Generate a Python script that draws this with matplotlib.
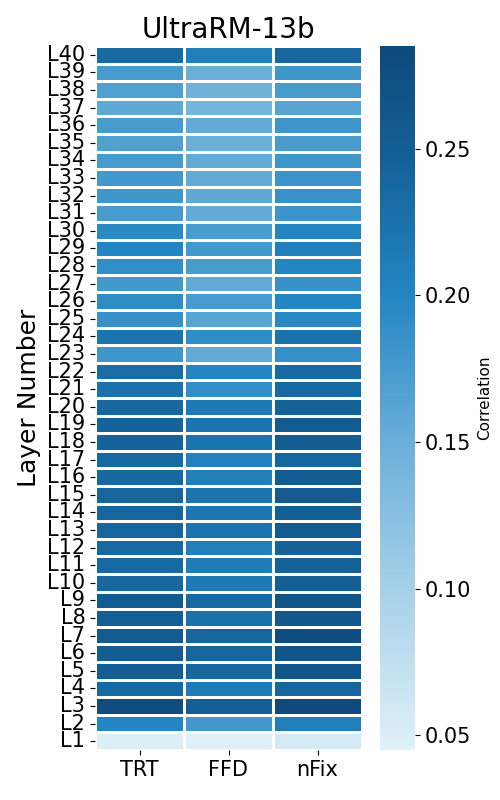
import numpy as np
import matplotlib
matplotlib.use("Agg")
import matplotlib.pyplot as plt
import seaborn as sns
from matplotlib.colors import LinearSegmentedColormap

title = "UltraRM-13b"
columns = ["TRT", "FFD", "nFix"]
layers = ["L%d" % i for i in range(1, 41)]

# correlation per layer, L1 .. L40
trt = [0.049, 0.200, 0.280, 0.236, 0.252, 0.252, 0.256, 0.250, 0.255, 0.238,
       0.236, 0.236, 0.240, 0.240, 0.240, 0.238, 0.236, 0.243, 0.243, 0.238,
       0.225, 0.232, 0.180, 0.222, 0.186, 0.192, 0.177, 0.190, 0.200, 0.195,
       0.175, 0.180, 0.177, 0.175, 0.168, 0.175, 0.158, 0.168, 0.175, 0.235]
ffd = [0.046, 0.177, 0.250, 0.213, 0.238, 0.240, 0.240, 0.225, 0.236, 0.215,
       0.212, 0.208, 0.222, 0.220, 0.222, 0.210, 0.205, 0.222, 0.222, 0.215,
       0.190, 0.200, 0.156, 0.192, 0.163, 0.174, 0.155, 0.175, 0.177, 0.173,
       0.155, 0.157, 0.155, 0.155, 0.150, 0.155, 0.140, 0.145, 0.150, 0.210]
nfix = [0.057, 0.210, 0.285, 0.240, 0.263, 0.265, 0.280, 0.260, 0.265, 0.250,
        0.245, 0.245, 0.255, 0.250, 0.256, 0.255, 0.240, 0.252, 0.255, 0.245,
        0.236, 0.236, 0.188, 0.224, 0.196, 0.200, 0.186, 0.200, 0.208, 0.202,
        0.182, 0.185, 0.182, 0.180, 0.175, 0.180, 0.163, 0.175, 0.180, 0.240]

data = np.array([trt, ffd, nfix]).T[::-1]
ylabels = layers[::-1]

cmap = LinearSegmentedColormap.from_list(
    "corr",
    [(0.0, "#e0f1f8"), (0.229, "#a6d0e8"), (0.438, "#6aafd8"),
     (0.646, "#2386c2"), (0.854, "#135e94"), (1.0, "#0e4a7b")])

fig = plt.figure(figsize=(5, 8), dpi=100)
ax = fig.add_axes([0.19, 0.0625, 0.534, 0.88])
cax = fig.add_axes([0.76, 0.0625, 0.07, 0.88])

sns.heatmap(data, ax=ax, cbar_ax=cax, cmap=cmap, vmin=0.045, vmax=0.285,
            linewidths=1, linecolor="white",
            xticklabels=columns, yticklabels=ylabels)

ax.set_title(title, fontsize=20)
ax.set_ylabel("Layer Number", fontsize=18)
ax.tick_params(axis="both", labelsize=15)
ax.set_yticklabels(ylabels, rotation=0, fontsize=15)

cax.tick_params(labelsize=15)
cax.set_ylabel("Correlation", fontsize=11)

fig.savefig("out.png", dpi=100)
